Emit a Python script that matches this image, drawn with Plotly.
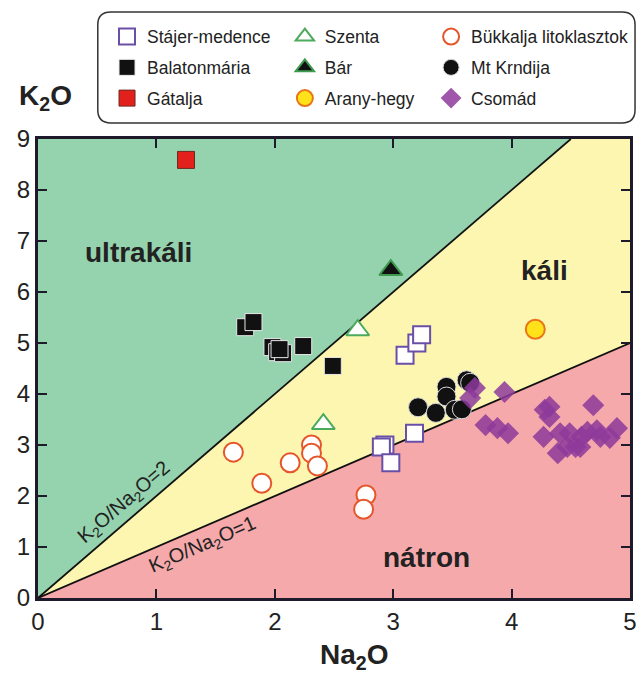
import plotly.graph_objects as go

# ---- sample compositions (wt%) ----
stajer_na = [3.10, 3.20, 3.24, 3.18, 2.93, 2.90, 2.98]
stajer_k = [4.76, 5.00, 5.16, 3.23, 3.00, 2.96, 2.65]

balaton_na = [1.75, 1.82, 1.98, 2.02, 2.07, 2.24, 2.49, 2.04]
balaton_k = [5.31, 5.41, 4.92, 4.82, 4.80, 4.94, 4.55, 4.88]

gatalja_na = [1.25]
gatalja_k = [8.59]

szenta_na = [2.70, 2.41]
szenta_k = [5.25, 3.41]

bar_na = [2.98]
bar_k = [6.43]

arany_na = [4.20]
arany_k = [5.27]

bukk_na = [1.65, 1.89, 2.13, 2.31, 2.31, 2.36, 2.77, 2.75]
bukk_k = [2.86, 2.25, 2.65, 3.00, 2.84, 2.59, 2.02, 1.74]

krndija_na = [3.21, 3.36, 3.45, 3.45, 3.52, 3.62, 3.65, 3.58]
krndija_k = [3.74, 3.63, 4.14, 3.95, 3.69, 4.27, 4.22, 3.70]

csomad_na = [3.69, 3.65, 3.94, 3.78, 3.88, 3.97, 4.28, 4.32, 4.32, 4.27, 4.69,
             4.41, 4.39, 4.49, 4.54, 4.59, 4.64, 4.72, 4.75, 4.83, 4.89, 4.47, 4.58]
csomad_k = [4.12, 3.92, 4.04, 3.39, 3.33, 3.23, 3.69, 3.75, 3.55, 3.16, 3.78,
            3.23, 2.84, 3.23, 2.96, 3.16, 3.26, 3.29, 3.16, 3.14, 3.33, 2.96, 2.96]

# field boundaries: K2O/Na2O ratios
ratio_lines = [2, 1]
x_max, y_max = 5, 9

FONT = "Liberation Sans, Arial, Helvetica, sans-serif"
TXT = "#222222"
GREEN = "#95d2ae"
YELLOW = "#fdf6b1"
PINK = "#f5a9aa"
FRAME = "#1d1b2b"

fig = go.Figure()

def add(name, xs, ys, symbol, size, fill, line_color, line_w, legend, opacity=1.0):
    fig.add_trace(go.Scatter(
        x=xs, y=ys, mode="markers", name=name, legend=legend, legendgroup=name,
        marker=dict(symbol=symbol, size=size, color=fill, opacity=opacity,
                    line=dict(color=line_color, width=line_w)),
    ))

# column 1 of the legend
add("Stájer-medence", stajer_na, stajer_k, "square", 17, "white", "#6a4fa6", 2, "legend")
add("Balatonmária", balaton_na, balaton_k, "square", 17, "#111111", "#e8e8e8", 1, "legend")
add("Gátalja", gatalja_na, gatalja_k, "square", 17, "#e3211c", "#6b2a20", 1, "legend")
# column 2
add("Szenta", szenta_na, szenta_k, "triangle-up", 20, "white", "#4caa5c", 2, "legend2")
add("Bár", bar_na, bar_k, "triangle-up", 20, "#111111", "#3d9a4e", 2, "legend2")
add("Arany-hegy", arany_na, arany_k, "circle", 19, "#ffe21a", "#e8751a", 2, "legend2")
# column 3
add("Bükkalja litoklasztok", bukk_na, bukk_k, "circle", 19, "white", "#e6552a", 2, "legend3")
add("Mt Krndija", krndija_na, krndija_k, "circle", 19, "#111111", "#d8d8d8", 1, "legend3")
add("Csomád", csomad_na, csomad_k, "diamond", 17, "#8d3a9b", "#8d3a9b", 0, "legend3", 0.85)

# classification fields
r_hi, r_lo = ratio_lines
shapes = [
    dict(type="path", path=f"M 0 0 L {y_max / r_hi} {y_max} L 0 {y_max} Z",
         fillcolor=GREEN, line=dict(width=0), layer="below"),
    dict(type="path",
         path=f"M 0 0 L {x_max} {x_max * r_lo} L {x_max} {y_max} L {y_max / r_hi} {y_max} Z",
         fillcolor=YELLOW, line=dict(width=0), layer="below"),
    dict(type="path", path=f"M 0 0 L {x_max} 0 L {x_max} {x_max * r_lo} Z",
         fillcolor=PINK, line=dict(width=0), layer="below"),
    dict(type="line", x0=0, y0=0, x1=y_max / r_hi, y1=y_max,
         line=dict(color="#111111", width=1.8), layer="below"),
    dict(type="line", x0=0, y0=0, x1=x_max, y1=x_max * r_lo,
         line=dict(color="#111111", width=1.8), layer="below"),
]

# rounded frame around the legend (paper coordinates)
x0, x1, y0, y1 = 0.101, 1.0085, 1.035, 1.2767
rx, ry = 0.022, 0.028
shapes.append(dict(
    type="path", xref="paper", yref="paper",
    path=(f"M {x0 + rx} {y1} L {x1 - rx} {y1} Q {x1} {y1} {x1} {y1 - ry} "
          f"L {x1} {y0 + ry} Q {x1} {y0} {x1 - rx} {y0} "
          f"L {x0 + rx} {y0} Q {x0} {y0} {x0} {y0 + ry} "
          f"L {x0} {y1 - ry} Q {x0} {y1} {x0 + rx} {y1} Z"),
    line=dict(color="#333333", width=1.5), fillcolor="white",
))

big = dict(size=28, color=TXT, family=FONT)
annotations = [
    dict(x=0.85, y=6.78, text="<b>ultrakáli</b>", showarrow=False, font=big),
    dict(x=4.28, y=6.43, text="<b>káli</b>", showarrow=False, font=big),
    dict(x=3.28, y=0.80, text="<b>nátron</b>", showarrow=False, font=big),
    dict(x=0.73, y=1.88, text="K<sub>2</sub>O/Na<sub>2</sub>O=2", showarrow=False,
         textangle=-40.7, font=dict(size=20, color=TXT, family=FONT)),
    dict(x=1.39, y=1.02, text="K<sub>2</sub>O/Na<sub>2</sub>O=1", showarrow=False,
         textangle=-23.3, font=dict(size=20, color=TXT, family=FONT)),
    dict(xref="paper", yref="paper", x=0.012, y=1.0915, xanchor="center", yanchor="middle",
         text="<b>K<sub>2</sub>O</b>", showarrow=False, font=big),
    dict(xref="paper", yref="paper", x=0.534, y=-0.128, xanchor="center", yanchor="middle",
         text="<b>Na<sub>2</sub>O</b>", showarrow=False, font=big),
]

legend_common = dict(
    orientation="v", yanchor="top", xanchor="left", bgcolor="rgba(0,0,0,0)", borderwidth=0,
    font=dict(size=17.5, family=FONT, color=TXT), itemsizing="trace",
    tracegroupgap=5, itemclick=False, y=1.262,
)

axis_common = dict(
    ticks="inside", ticklen=9, tickwidth=2, tickcolor=FRAME, showgrid=False,
    zeroline=False, showline=True, linecolor=FRAME, linewidth=3, mirror="ticks",
    tickfont=dict(size=24, family=FONT, color=TXT), automargin=False,
)

fig.update_layout(
    width=637, height=675,
    margin=dict(l=38, r=7, t=139, b=77, autoexpand=False),
    paper_bgcolor="white", plot_bgcolor="white",
    font=dict(family=FONT, size=20, color=TXT),
    shapes=shapes, annotations=annotations,
    legend=dict(x=0.1166, entrywidth=150, **legend_common),
    legend2=dict(x=0.417, entrywidth=130, **legend_common),
    legend3=dict(x=0.664, entrywidth=120, **legend_common),
    xaxis=dict(range=[0, x_max], tickvals=[0, 1, 2, 3, 4, 5], **axis_common),
    yaxis=dict(range=[0, y_max], tickvals=list(range(0, 10)), **axis_common),
)

fig.write_html("out.html")
